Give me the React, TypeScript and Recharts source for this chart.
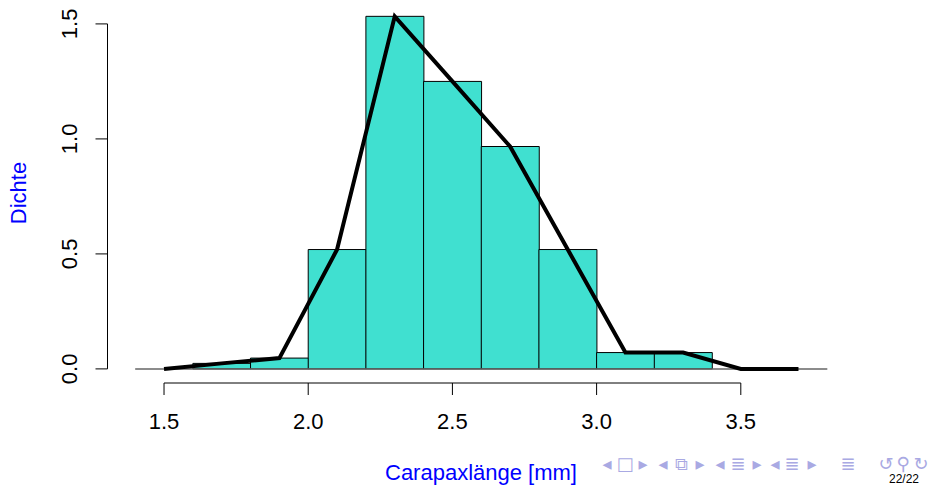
import React from 'react'
import {
  ComposedChart,
  Bar,
  Line,
  XAxis,
  YAxis,
  ReferenceLine,
} from 'recharts'

// histogram bins (width 0.2), density per bin midpoint
const binMids = [1.7, 1.9, 2.1, 2.3, 2.5, 2.7, 2.9, 3.1, 3.3]
const densities = [0.024, 0.047, 0.519, 1.533, 1.25, 0.967, 0.519, 0.071, 0.071]

// frequency polygon points
const polyX = [1.5, 1.7, 1.9, 2.1, 2.3, 2.5, 2.7, 2.9, 3.1, 3.3, 3.5, 3.7]
const polyY = [0, 0.024, 0.047, 0.519, 1.533, 1.25, 0.967, 0.519, 0.071, 0.071, 0, 0]

const xTicks = [1.5, 2.0, 2.5, 3.0, 3.5]
const yTicks = [0, 0.5, 1.0, 1.5]

const xDomain: [number, number] = [1.304, 3.896]
const yDomain: [number, number] = [-0.0613, 1.594]

const navSymbols: [string, number][] = [
  ['◂', 607], ['□', 625], ['▸', 643],
  ['◂', 663], ['⧉', 681], ['▸', 700],
  ['◂', 720], ['≣', 738], ['▸', 757],
  ['◂', 775], ['≣', 792], ['▸', 812],
  ['≣', 848], ['↺', 886], ['⚲', 903], ['↻', 921],
]

const FONT = '"Liberation Sans", Arial, Helvetica, sans-serif'

const data = polyX.map((x, i) => {
  const b = binMids.findIndex((m) => Math.abs(m - x) < 1e-9)
  return { x, density: b >= 0 ? densities[b] : null, poly: polyY[i] }
})

// eslint-disable-next-line @typescript-eslint/no-explicit-any
function YTick(props: any) {
  const { y, payload } = props
  const bx = 77
  return (
    <text
      x={bx}
      y={y}
      transform={`rotate(-90, ${bx}, ${y})`}
      textAnchor="middle"
      fontSize={22}
      fontFamily={FONT}
      fill="#000"
    >
      {Number(payload.value).toFixed(1)}
    </text>
  )
}

export default function App() {
  return (
    <div style={{ position: 'absolute', left: 0, top: 0, width: 933, height: 485, background: '#fff', overflow: 'hidden' }}>
      <ComposedChart
        width={933}
        height={485}
        data={data}
        margin={{ top: 2.3, right: 78, bottom: 62, left: 0 }}
        barCategoryGap={0}
        barGap={0}
      >
        <XAxis
          dataKey="x"
          type="number"
          domain={xDomain}
          allowDataOverflow
          ticks={xTicks}
          tickFormatter={(v: number) => v.toFixed(1)}
          axisLine={false}
          tickLine={{ stroke: '#000' }}
          tickSize={12}
          tickMargin={18}
          height={40}
          tick={{ fontSize: 22, fill: '#000', fontFamily: FONT }}
          interval={0}
        />
        <YAxis
          type="number"
          domain={yDomain}
          allowDataOverflow
          ticks={yTicks}
          axisLine={false}
          tickLine={{ stroke: '#000' }}
          tickSize={12}
          width={107.5}
          tick={<YTick />}
          interval={0}
        />

        {/* R-style axis lines spanning only the tick range */}
        <ReferenceLine
          segment={[{ x: 1.5, y: yDomain[0] }, { x: 3.5, y: yDomain[0] }]}
          stroke="#000"
          strokeWidth={1}
          ifOverflow="visible"
        />
        <ReferenceLine
          segment={[{ x: xDomain[0], y: 0 }, { x: xDomain[0], y: 1.5 }]}
          stroke="#000"
          strokeWidth={1}
          ifOverflow="visible"
        />
        <ReferenceLine
          segment={[{ x: 1.4, y: 0 }, { x: 3.8, y: 0 }]}
          stroke="#666"
          strokeWidth={1.5}
          ifOverflow="visible"
        />

        <Bar dataKey="density" fill="#40E0D0" stroke="#000" strokeWidth={1} isAnimationActive={false} />
        <Line
          dataKey="poly"
          type="linear"
          stroke="#000"
          strokeWidth={4}
          dot={false}
          activeDot={false}
          isAnimationActive={false}
        />
      </ComposedChart>

      <svg width={933} height={485} style={{ position: 'absolute', left: 0, top: 0, pointerEvents: 'none' }}>
        <text x={481} y={480} textAnchor="middle" fontSize={22} fontFamily={FONT} fill="#0000ff">
          Carapaxlänge [mm]
        </text>
        <text
          x={26}
          y={193}
          transform="rotate(-90, 26, 193)"
          textAnchor="middle"
          fontSize={22}
          fontFamily={FONT}
          fill="#0000ff"
        >
          Dichte
        </text>
        {navSymbols.map(([s, x], i) => (
          <text key={i} x={x} y={470} textAnchor="middle" fontSize={18} fontFamily='"DejaVu Sans", sans-serif' fill="#a9a9e3">
            {s}
          </text>
        ))}
        <text x={889} y={483} fontSize={12} fontFamily={FONT} fill="#000">
          22/22
        </text>
      </svg>
    </div>
  )
}
